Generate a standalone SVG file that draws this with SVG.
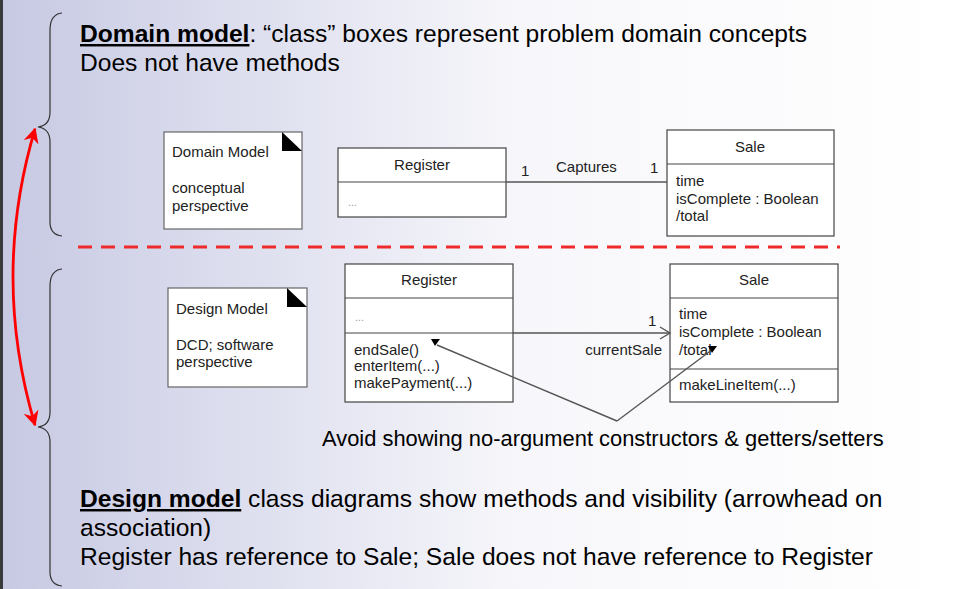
<svg xmlns="http://www.w3.org/2000/svg" width="953" height="589" viewBox="0 0 953 589">
<defs>
<linearGradient id="bg" x1="0" y1="0" x2="953" y2="0" gradientUnits="userSpaceOnUse">
<stop offset="0" stop-color="#c7c9e3"/>
<stop offset="0.55" stop-color="#f7f7fb"/>
<stop offset="1" stop-color="#ffffff"/>
</linearGradient>
<marker id="red" viewBox="0 0 10 10" refX="9" refY="5" markerWidth="5.5" markerHeight="5.5" orient="auto-start-reverse">
<path d="M0,0 L10,5 L0,10 L3,5 z" fill="#ff0000"/>
</marker>
</defs>
<style>
.big{font-family:"Liberation Sans",Arial,sans-serif;font-size:24.6px;fill:#000}
.sm{font-family:"Liberation Sans",Arial,sans-serif;font-size:15px;fill:#222}
.dots{font-family:"Liberation Sans",Arial,sans-serif;font-size:11px;fill:#999}
.box{fill:#fff;stroke:#444;stroke-width:1.2}
.note{fill:#fff;stroke:#666;stroke-width:1.2}
.div{stroke:#444;stroke-width:1.2}
.brace{fill:none;stroke:#333;stroke-width:1.2}
.conn{fill:none;stroke:#555;stroke-width:1.4}
</style>
<rect x="0" y="0" width="953" height="589" fill="url(#bg)"/>
<rect x="0" y="0" width="3" height="589" fill="#3a3a3a"/>

<g id="braces">
<path class="brace" d="M62,13 C53,14 50,20 50,30 L50,112 C50,121 46,126 38,127 C46,128 50,133 50,142 L50,222 C50,230 53,235 62,236"/>
<path class="brace" d="M62,269 C53,270 50,276 50,286 L50,412 C50,421 46,426 38,427 C46,428 50,433 50,442 L50,572 C50,580 53,585 62,586"/>
</g>

<g id="red-arrow">
<path d="M35,129 Q-9,277 35,425" fill="none" stroke="#ff0000" stroke-width="2.8" marker-start="url(#red)" marker-end="url(#red)"/>
</g>

<g id="separator">
<line x1="78" y1="247" x2="840" y2="247" stroke="#ee2a2a" stroke-width="3" stroke-dasharray="14 9"/>
</g>

<g id="title-top">
<text class="big" x="80" y="42"><tspan font-weight="bold" text-decoration="underline">Domain model</tspan>: “class” boxes represent problem domain concepts</text>
<text class="big" x="80" y="71">Does not have methods</text>
</g>

<g id="domain-note">
<rect class="note" x="164" y="132" width="138" height="97"/>
<polygon points="282,132 282,151 302,151" fill="#000"/>
<text class="sm" x="172" y="157">Domain Model</text>
<text class="sm" x="172" y="193">conceptual</text>
<text class="sm" x="172" y="211">perspective</text>
</g>

<g id="domain-register">
<rect class="box" x="338" y="148" width="168" height="69"/>
<line class="div" x1="338" y1="182" x2="506" y2="182"/>
<text class="sm" x="422" y="170" text-anchor="middle">Register</text>
<text class="dots" x="348" y="206">...</text>
</g>

<g id="domain-sale">
<rect class="box" x="667" y="130" width="167" height="106"/>
<line class="div" x1="667" y1="164" x2="834" y2="164"/>
<text class="sm" x="750" y="152" text-anchor="middle">Sale</text>
<text class="sm" x="676" y="186">time</text>
<text class="sm" x="676" y="204">isComplete : Boolean</text>
<text class="sm" x="676" y="221">/total</text>
</g>

<g id="design-note">
<rect class="note" x="168" y="288" width="139" height="99"/>
<polygon points="287,288 287,307 307,307" fill="#000"/>
<text class="sm" x="176" y="314">Design Model</text>
<text class="sm" x="176" y="350">DCD; software</text>
<text class="sm" x="176" y="367">perspective</text>
</g>

<g id="design-register">
<rect class="box" x="345" y="264" width="168" height="138"/>
<line class="div" x1="345" y1="298" x2="513" y2="298"/>
<line class="div" x1="345" y1="333" x2="513" y2="333"/>
<text class="sm" x="429" y="285" text-anchor="middle">Register</text>
<text class="dots" x="355" y="321">...</text>
<text class="sm" x="354" y="355">endSale()</text>
<text class="sm" x="354" y="371">enterItem(...)</text>
<text class="sm" x="354" y="388">makePayment(...)</text>
</g>

<g id="design-sale">
<rect class="box" x="670" y="264" width="168" height="138"/>
<line class="div" x1="670" y1="298" x2="838" y2="298"/>
<line class="div" x1="670" y1="369" x2="838" y2="369"/>
<text class="sm" x="754" y="285" text-anchor="middle">Sale</text>
<text class="sm" x="679" y="319">time</text>
<text class="sm" x="679" y="337">isComplete : Boolean</text>
<text class="sm" x="679" y="355">/total</text>
<text class="sm" x="679" y="390">makeLineItem(...)</text>
</g>

<g id="connectors">
<line class="conn" x1="506" y1="182" x2="667" y2="182"/>
<text class="sm" x="521" y="176">1</text>
<text class="sm" x="556" y="172">Captures</text>
<text class="sm" x="650" y="173">1</text>

<line class="conn" x1="513" y1="333" x2="670" y2="333"/>
<polyline class="conn" points="660,327 670,333 660,339"/>
<text class="sm" x="648" y="326">1</text>
<text class="sm" x="662" y="355" text-anchor="end">currentSale</text>

<line class="conn" x1="617" y1="421" x2="437" y2="345"/>
<polygon points="431,339 440,339 435,346" fill="#000"/>
<line class="conn" x1="617" y1="421" x2="713" y2="349"/>
<polygon points="708,346 717,346 712,353" fill="#000"/>
</g>

<g id="callout-text">
<text class="big" x="322" y="446" style="font-size:21.9px">Avoid showing no-argument constructors &amp; getters/setters</text>
</g>

<g id="title-bottom">
<text class="big" x="80" y="507"><tspan font-weight="bold" text-decoration="underline">Design model</tspan> class diagrams show methods and visibility (arrowhead on</text>
<text class="big" x="80" y="536">association)</text>
<text class="big" x="80" y="565">Register has reference to Sale; Sale does not have reference to Register</text>
</g>
</svg>
